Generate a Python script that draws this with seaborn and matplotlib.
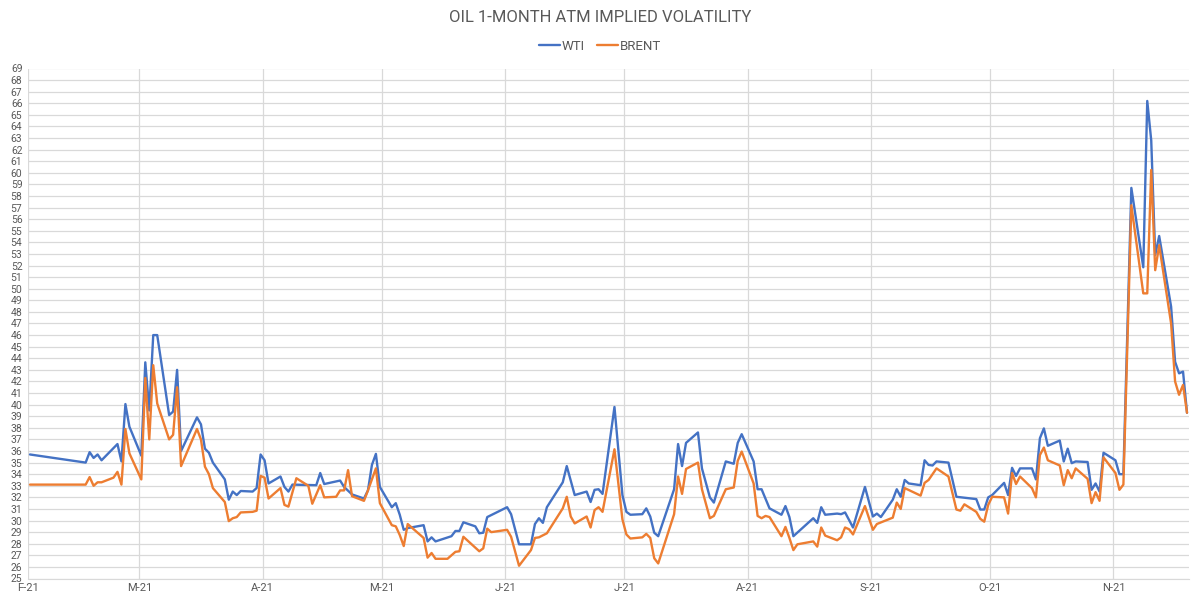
import pandas as pd
import numpy as np
import matplotlib
matplotlib.use("Agg")
import matplotlib.pyplot as plt
from matplotlib.lines import Line2D
import seaborn as sns

# ========== DATA ==========
wti_days = ["02-01", "02-15", "02-16", "02-17", "02-18", "02-19", "02-23", "02-24", "02-25", "02-26",
            "03-01", "03-02", "03-03", "03-04", "03-05", "03-08", "03-09", "03-10", "03-11", "03-15",
            "03-16", "03-17", "03-18", "03-19", "03-22", "03-23", "03-24", "03-25", "03-26", "03-29",
            "03-30", "03-31", "04-01", "04-02", "04-05", "04-06", "04-07", "04-08", "04-14", "04-15",
            "04-16", "04-20", "04-21", "04-23", "04-26", "04-27", "04-28", "04-29", "04-30", "05-03",
            "05-04", "05-05", "05-06", "05-07", "05-11", "05-12", "05-13", "05-14", "05-18", "05-19",
            "05-20", "05-21", "05-24", "05-25", "05-26", "05-27", "06-01", "06-02", "06-04", "06-07",
            "06-08", "06-09", "06-10", "06-11", "06-15", "06-16", "06-18", "06-21", "06-22", "06-23",
            "06-24", "06-25", "06-28", "06-30", "07-01", "07-02", "07-05", "07-06", "07-07", "07-08",
            "07-09", "07-13", "07-14", "07-15", "07-16", "07-19", "07-20", "07-22", "07-23", "07-26",
            "07-28", "07-29", "07-30", "08-02", "08-03", "08-04", "08-06", "08-09", "08-10", "08-11",
            "08-12", "08-17", "08-18", "08-19", "08-20", "08-23", "08-24", "08-25", "08-27", "08-30",
            "09-01", "09-02", "09-03", "09-06", "09-07", "09-08", "09-09", "09-10", "09-13", "09-14",
            "09-15", "09-16", "09-17", "09-20", "09-22", "09-27", "09-28", "09-29", "09-30", "10-01",
            "10-04", "10-05", "10-06", "10-07", "10-08", "10-11", "10-12", "10-13", "10-14", "10-15",
            "10-18", "10-19", "10-20", "10-21", "10-22", "10-25", "10-26", "10-27", "10-28", "10-29",
            "11-01", "11-02", "11-03", "11-05", "11-08", "11-09", "11-10", "11-11", "11-12", "11-15",
            "11-16", "11-17", "11-18", "11-19"]
wti_vol = [35.7, 35.0, 35.9, 35.4, 35.7, 35.2, 36.6, 35.1, 40.05, 38.1,
           35.6, 43.65, 39.5, 46.0, 46.0, 39.1, 39.4, 43.0, 36.0, 38.9,
           38.3, 36.2, 35.85, 35.0, 33.55, 31.8, 32.5, 32.2, 32.55, 32.5,
           32.8, 35.7, 35.2, 33.2, 33.8, 32.9, 32.5, 33.1, 33.05, 34.1,
           33.15, 33.45, 32.9, 32.25, 31.9, 32.6, 34.8, 35.75, 32.9, 31.15,
           31.5, 30.5, 29.2, 29.35, 29.6, 28.2, 28.55, 28.2, 28.65, 29.1,
           29.1, 29.85, 29.5, 28.9, 28.95, 30.3, 31.15, 30.55, 27.95, 27.95,
           29.7, 30.2, 29.8, 31.15, 33.3, 34.7, 32.2, 32.5, 31.6, 32.65,
           32.7, 32.3, 39.8, 32.2, 30.75, 30.5, 30.55, 31.05, 30.35, 28.95,
           28.65, 32.7, 36.6, 34.7, 36.7, 37.6, 34.5, 32.0, 31.55, 35.1,
           34.9, 36.7, 37.45, 35.1, 32.7, 32.7, 31.05, 30.5, 31.25, 30.3,
           28.65, 30.2, 29.8, 31.15, 30.5, 30.6, 30.55, 30.7, 29.4, 32.9,
           30.35, 30.6, 30.3, 31.8, 32.7, 32.05, 33.5, 33.2, 33.05, 35.2,
           34.8, 34.75, 35.1, 35.0, 32.05, 31.85, 30.95, 30.95, 32.0, 32.2,
           33.25, 32.2, 34.55, 33.85, 34.5, 34.5, 33.55, 37.1, 37.95, 36.45,
           36.9, 35.1, 36.2, 34.95, 35.1, 35.05, 32.65, 33.2, 32.5, 35.85,
           35.2, 34.0, 34.0, 58.7, 51.85, 66.2, 62.8, 52.9, 54.55, 48.45,
           43.7, 42.7, 42.85, 39.3]

brent_days = ["02-01", "02-15", "02-16", "02-17", "02-18", "02-19", "02-22", "02-23", "02-24", "02-25",
              "02-26", "03-01", "03-02", "03-03", "03-04", "03-05", "03-08", "03-09", "03-10", "03-11",
              "03-15", "03-16", "03-17", "03-18", "03-19", "03-22", "03-23", "03-24", "03-25", "03-26",
              "03-29", "03-30", "03-31", "04-01", "04-02", "04-05", "04-06", "04-07", "04-09", "04-12",
              "04-13", "04-14", "04-15", "04-16", "04-19", "04-20", "04-21", "04-22", "04-23", "04-26",
              "04-27", "04-29", "04-30", "05-03", "05-04", "05-05", "05-06", "05-07", "05-11", "05-12",
              "05-13", "05-14", "05-17", "05-19", "05-20", "05-21", "05-25", "05-26", "05-27", "05-28",
              "06-01", "06-02", "06-04", "06-07", "06-08", "06-09", "06-11", "06-15", "06-16", "06-17",
              "06-18", "06-21", "06-22", "06-23", "06-24", "06-25", "06-28", "06-30", "07-01", "07-02",
              "07-05", "07-06", "07-07", "07-08", "07-09", "07-13", "07-14", "07-15", "07-16", "07-19",
              "07-20", "07-22", "07-23", "07-26", "07-28", "07-29", "07-30", "08-02", "08-03", "08-04",
              "08-05", "08-06", "08-09", "08-10", "08-11", "08-12", "08-13", "08-17", "08-18", "08-19",
              "08-20", "08-23", "08-24", "08-25", "08-26", "08-27", "08-30", "09-01", "09-02", "09-06",
              "09-07", "09-08", "09-09", "09-13", "09-14", "09-15", "09-17", "09-20", "09-22", "09-23",
              "09-24", "09-27", "09-28", "09-29", "09-30", "10-01", "10-04", "10-05", "10-06", "10-07",
              "10-08", "10-11", "10-12", "10-13", "10-14", "10-15", "10-18", "10-19", "10-20", "10-21",
              "10-22", "10-25", "10-26", "10-27", "10-28", "10-29", "11-01", "11-02", "11-03", "11-05",
              "11-08", "11-09", "11-10", "11-11", "11-12", "11-15", "11-16", "11-17", "11-18", "11-19"]
brent_vol = [33.1, 33.1, 33.75, 33.0, 33.3, 33.3, 33.7, 34.2, 33.1, 37.9,
             35.8, 33.55, 42.3, 37.0, 43.4, 40.1, 37.0, 37.4, 41.5, 34.7,
             37.9, 37.0, 34.65, 34.0, 32.8, 31.6, 29.95, 30.2, 30.3, 30.7,
             30.75, 30.85, 33.85, 33.7, 31.9, 32.8, 31.35, 31.2, 33.65, 33.0,
             31.45, 32.25, 33.05, 32.0, 32.05, 32.6, 32.6, 34.35, 32.1, 31.7,
             32.6, 34.5, 31.5, 29.6, 29.5, 28.75, 27.8, 29.7, 28.5, 26.8,
             27.2, 26.7, 26.7, 27.3, 27.35, 28.6, 27.35, 27.6, 29.3, 29.0,
             29.2, 28.6, 26.1, 27.45, 28.5, 28.55, 28.9, 31.05, 32.05, 30.35,
             29.75, 30.35, 29.4, 30.9, 31.15, 30.75, 36.15, 30.1, 28.8, 28.45,
             28.55, 28.85, 28.5, 26.75, 26.3, 30.55, 33.8, 32.3, 34.45, 35.0,
             32.7, 30.2, 30.4, 32.7, 32.85, 35.15, 35.95, 33.2, 30.4, 30.2,
             30.4, 30.3, 28.65, 29.45, 28.5, 27.45, 27.95, 28.2, 27.75, 29.4,
             28.7, 28.3, 28.55, 29.4, 29.25, 28.8, 31.25, 29.2, 29.7, 30.25,
             31.55, 31.0, 32.8, 32.15, 33.25, 33.5, 34.5, 33.8, 30.95, 30.85,
             31.4, 30.75, 30.15, 29.9, 31.35, 32.05, 32.0, 30.6, 34.1, 33.15,
             33.8, 32.8, 32.0, 35.65, 36.3, 35.2, 34.75, 33.05, 34.35, 33.65,
             34.5, 33.6, 31.5, 32.45, 31.7, 35.45, 34.1, 32.65, 33.1, 57.2,
             49.6, 49.6, 60.25, 51.6, 53.75, 47.0, 42.0, 40.85, 41.7, 39.3]

series_names = ["WTI", "BRENT"]
series_colors = ["#4472C4", "#ED7D31"]
month_labels = ["F-21", "M-21", "A-21", "M-21", "J-21", "J-21", "A-21", "S-21", "O-21", "N-21"]
y_ticks = list(range(25, 70))

# ========== DATAFRAME ==========
df = pd.concat([
    pd.DataFrame({"day": wti_days, "vol": wti_vol, "series": "WTI"}),
    pd.DataFrame({"day": brent_days, "vol": brent_vol, "series": "BRENT"}),
], ignore_index=True)
# points sit in the middle of their day slot (Excel "between tick marks")
df["date"] = pd.to_datetime("2021-" + df["day"]) + pd.Timedelta(hours=12)

# ========== PLOT ==========
sns.set_style("white")
plt.rcParams["font.family"] = ["Roboto", "DejaVu Sans"]
txt = "#595959"
grid = "#d9d9d9"

fig = plt.figure(figsize=(12, 6.06), dpi=100)
ax = fig.add_axes([28 / 1200, 1 - 578.5 / 606, (1189 - 28) / 1200, (578.5 - 68.5) / 606])

sns.lineplot(data=df, x="date", y="vol", hue="series", hue_order=series_names,
             palette=dict(zip(series_names, series_colors)), estimator=None,
             linewidth=1.7, ax=ax, legend=False)

month_starts = pd.date_range("2021-02-01", periods=len(month_labels), freq="MS")
ax.set_xticks(month_starts)
ax.set_xticklabels(month_labels)
ax.set_xlim(pd.Timestamp("2021-02-01"), pd.Timestamp("2021-11-20"))
ax.set_yticks(y_ticks)
ax.set_ylim(25, 69)
ax.set_xlabel("")
ax.set_ylabel("")

ax.grid(True, color=grid, linewidth=0.9)
ax.set_axisbelow(True)
for s in ["top", "right", "left"]:
    ax.spines[s].set_visible(False)
ax.spines["bottom"].set_color(grid)
ax.tick_params(axis="both", length=0, colors=txt, labelsize=7.5)
ax.tick_params(axis="y", pad=4)
ax.tick_params(axis="x", pad=3, labelsize=8)

fig.text(0.5, 1 - 18 / 606, "OIL 1-MONTH ATM IMPLIED VOLATILITY", ha="center", va="center",
         fontsize=12, color=txt)
handles = [Line2D([], [], color=c, linewidth=1.7) for c in series_colors]
fig.legend(handles, series_names, loc="center", bbox_to_anchor=(0.5, 1 - 46 / 606), ncol=2,
           frameon=False, fontsize=9.5, handlelength=1.6, handletextpad=0.15, columnspacing=0.9,
           labelcolor=txt)

fig.savefig("out.png", dpi=100)
